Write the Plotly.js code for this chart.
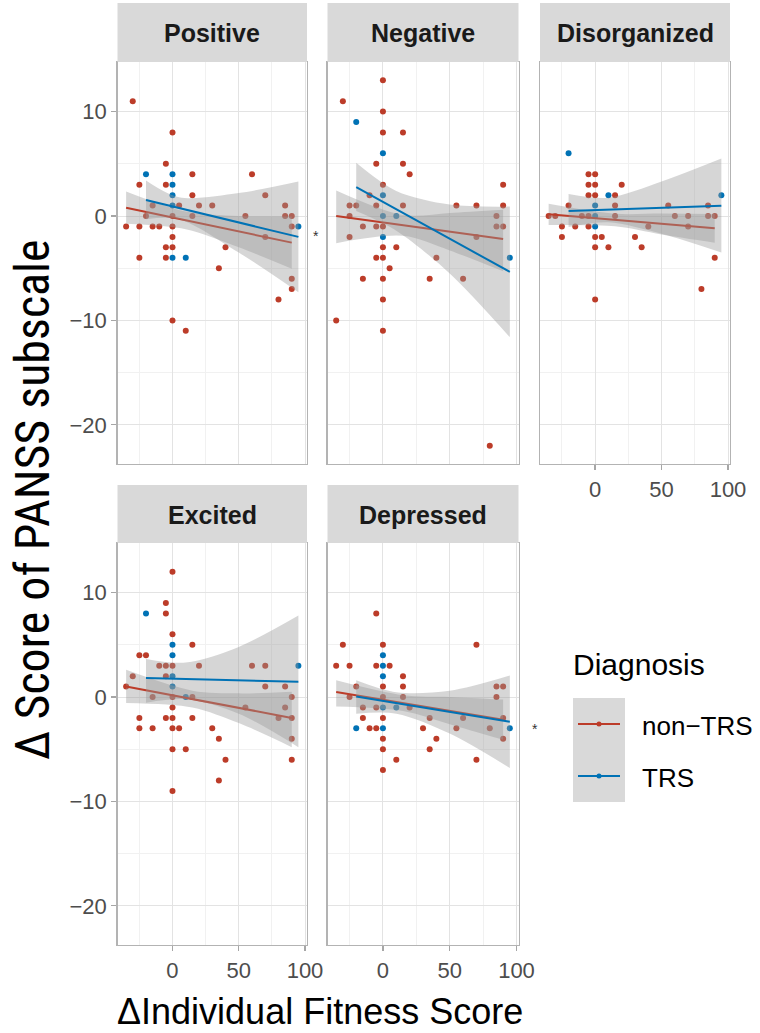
<!DOCTYPE html>
<html><head><meta charset="utf-8">
<script src="https://cdn.plot.ly/plotly-3.0.1.min.js"></script>
<style>html,body{margin:0;padding:0;background:#fff}</style>
</head><body><div id="chart" style="width:760px;height:1033px"></div>
<script>
// ---------- DATA ----------
const panelNames = ["Positive", "Negative", "Disorganized", "Excited", "Depressed"];
const groupNames = ["non\u2212TRS", "TRS"];
const xTicks = [0, 50, 100];
const xMinor = [-25, 25, 75];
const yTicks = [-20, -10, 0, 10];
const yMinor = [-15, -5, 5];

// Positive
const posRedX = [-30,0,-5,15,60,-25,-5,15,70,-15,5,20,30,85,-20,0,15,55,85,90,-35,-25,-15,-10,0,90,0,70,-5,0,40,-25,-5,35,90,90,80,0,10];
const posRedY = [11,8,5,4,4,3,3,2,2,1,1,1,1,1,0,0,0,0,0,0,-1,-1,-1,-1,-1,-1,-2,-2,-3,-3,-3,-4,-4,-5,-6,-7,-8,-10,-11];
const posBlueX = [-20,0,0,0,0,95,0,10];
const posBlueY = [4,4,3,2,1,-1,-4,-4];
const posRedFitX = [-35, 90], posRedFitY = [0.8, -2.55];
const posBlueFitX = [-20, 95], posBlueFitY = [1.53, -2.0];
const posRedBandX = [-35, 10, 50, 90], posRedBandLo = [-0.75, -1.27, -3.0, -5.05], posRedBandHi = [2.35, 0.43, 0.0, -0.05];
const posBlueBandX = [-20, 5, 50, 95], posBlueBandLo = [-0.3, -0.3, -3.5, -7.3], posBlueBandHi = [3.4, 1.8, 2.2, 3.3];

// Negative
const negRedX = [0,-30,0,0,15,-5,15,20,0,90,-10,-25,-20,-5,15,55,70,90,-25,85,-15,-5,0,85,90,-25,70,0,10,-5,0,40,5,-15,0,35,60,0,-35,0,80];
const negRedY = [13,11,10,8,8,5,5,4,3,3,2,1,1,1,1,1,1,1,0,0,-1,-1,-1,-1,-1,-2,-2,-3,-3,-4,-4,-4,-5,-6,-6,-6,-6,-8,-10,-11,-22];
const negBlueX = [-20,0,0,0,10,0,95];
const negBlueY = [9,6,2,0,0,-2,-4];
const negRedFitX = [-35, 90], negRedFitY = [0.0, -2.2];
const negBlueFitX = [-20, 95], negBlueFitY = [2.77, -5.35];
const negRedBandX = [-35, 15, 50, 90], negRedBandLo = [-2.6, -1.9, -3.3, -5.3], negRedBandHi = [2.45, 0.1, 0.3, 0.6];
const negBlueBandX = [-20, 10, 50, 95], negBlueBandLo = [0.48, -1.4, -5.5, -11.6], negBlueBandHi = [5.1, 2.4, 1.1, 0.9];

// Disorganized
const disRedX = [-35,-30,-20,-25,-25,-15,-10,-5,0,-5,0,-5,0,-5,-5,0,5,0,10,0,15,15,15,20,30,35,40,55,60,70,70,85,85,90,90,80];
const disRedY = [0,0,1,-1,-2,-1,0,4,4,3,3,2,2,0,-1,-2,-2,-3,-3,-8,2,1,0,3,-2,-3,-1,1,0,0,-1,1,0,0,-4,-7];
const disBlueX = [-20,10,0,0,0,95];
const disBlueY = [6,2,1,0,-1,2];
const disRedFitX = [-35, 90], disRedFitY = [0.16, -1.17];
const disBlueFitX = [-20, 95], disBlueFitY = [0.48, 0.98];
const disRedBandX = [-35, 15, 50, 90], disRedBandLo = [-0.86, -0.98, -1.76, -2.55], disRedBandHi = [1.17, 0.22, 0.24, 0.2];
const disBlueBandX = [-20, 10, 50, 95], disBlueBandLo = [-1.05, -0.6, -1.7, -3.5], disBlueBandHi = [2.1, 1.75, 3.3, 5.5];

// Excited
const excRedX = [0,-5,-5,0,-25,-20,15,-10,-5,0,20,60,70,-30,-5,-35,70,85,-15,0,15,90,0,55,85,-25,-5,0,15,80,90,-25,-15,0,5,30,35,90,0,10,40,90,35,0];
const excRedY = [12,9,8,6,4,4,5,3,3,3,3,3,3,2,2,1,1,1,0,0,0,0,-1,-1,-1,-2,-2,-2,-2,-2,-2,-3,-3,-3,-3,-3,-4,-4,-5,-5,-6,-6,-8,-9];
const excBlueX = [-20,0,0,95,0,0,10];
const excBlueY = [8,5,4,3,2,1,0];
const excRedFitX = [-35, 90], excRedFitY = [1.0, -2.0];
const excBlueFitX = [-20, 95], excBlueFitY = [1.81, 1.46];
const excRedBandX = [-35, 15, 50, 90], excRedBandLo = [-0.57, -1.0, -2.5, -4.8], excRedBandHi = [2.6, 0.6, 0.35, 0.5];
const excBlueBandX = [-20, 10, 50, 95], excBlueBandLo = [-0.54, -0.2, -1.6, -4.8], excBlueBandHi = [3.65, 3.3, 4.8, 7.8];

// Depressed
const depRedX = [-5,-30,0,70,-35,-25,-5,5,15,15,-20,0,85,90,-25,0,15,85,-15,-5,20,-15,0,35,60,90,-10,-5,30,55,80,0,40,90,0,35,10,70,0];
const depRedY = [8,5,5,5,3,3,3,3,2,1,1,1,1,1,0,0,0,0,-1,-1,-1,-2,-2,-2,-2,-2,-3,-3,-3,-3,-3,-4,-4,-4,-5,-5,-6,-6,-7];
const depBlueX = [0,0,0,0,10,-20,0,95];
const depBlueY = [4,3,2,-1,-1,-3,-3,-3];
const depRedFitX = [-35, 90], depRedFitY = [0.48, -2.17];
const depBlueFitX = [-20, 95], depBlueFitY = [0.06, -2.38];
const depRedBandX = [-35, 15, 50, 90], depRedBandLo = [-0.9, -1.33, -2.6, -4.1], depRedBandHi = [1.6, 0.17, 0.0, -0.25];
const depBlueBandX = [-20, 10, 50, 95], depBlueBandLo = [-1.6, -1.6, -3.5, -6.8], depBlueBandHi = [1.6, 0.45, 0.6, 2.06];

// ---------- STYLE / LAYOUT ----------
const W = 760, H = 1033;
const RED = "#BC3C29", BLUE = "#0072B5";
const BAND = "rgba(153,153,153,0.4)";
const FONT = "Liberation Sans, Arial, Helvetica, sans-serif";
const NARROW = "Liberation Sans Narrow, Arial Narrow, Roboto Condensed, Liberation Sans, sans-serif";
const px = v => v / W, py = v => 1 - v / H;

const colX = [[117.5, 307], [327.5, 518.5], [540, 730]];
const rowY = [[62, 464], [543, 945]];
const stripY = [[3, 62], [485, 543]];
const panelPos = [[0,0],[1,0],[2,0],[0,1],[1,1]]; // [col,row]
const showXLabels = [false, false, true, true, true];
const showYLabels = [true, false, false, true, false];

const panels = [
  {rx: posRedX, ry: posRedY, bx: posBlueX, by: posBlueY, rfx: posRedFitX, rfy: posRedFitY, bfx: posBlueFitX, bfy: posBlueFitY,
   rbx: posRedBandX, rbl: posRedBandLo, rbh: posRedBandHi, bbx: posBlueBandX, bbl: posBlueBandLo, bbh: posBlueBandHi},
  {rx: negRedX, ry: negRedY, bx: negBlueX, by: negBlueY, rfx: negRedFitX, rfy: negRedFitY, bfx: negBlueFitX, bfy: negBlueFitY,
   rbx: negRedBandX, rbl: negRedBandLo, rbh: negRedBandHi, bbx: negBlueBandX, bbl: negBlueBandLo, bbh: negBlueBandHi},
  {rx: disRedX, ry: disRedY, bx: disBlueX, by: disBlueY, rfx: disRedFitX, rfy: disRedFitY, bfx: disBlueFitX, bfy: disBlueFitY,
   rbx: disRedBandX, rbl: disRedBandLo, rbh: disRedBandHi, bbx: disBlueBandX, bbl: disBlueBandLo, bbh: disBlueBandHi},
  {rx: excRedX, ry: excRedY, bx: excBlueX, by: excBlueY, rfx: excRedFitX, rfy: excRedFitY, bfx: excBlueFitX, bfy: excBlueFitY,
   rbx: excRedBandX, rbl: excRedBandLo, rbh: excRedBandHi, bbx: excBlueBandX, bbl: excBlueBandLo, bbh: excBlueBandHi},
  {rx: depRedX, ry: depRedY, bx: depBlueX, by: depBlueY, rfx: depRedFitX, rfy: depRedFitY, bfx: depBlueFitX, bfy: depBlueFitY,
   rbx: depRedBandX, rbl: depRedBandLo, rbh: depRedBandHi, bbx: depBlueBandX, bbl: depBlueBandLo, bbh: depBlueBandHi}
];

const traces = [];
const layout = {
  width: W, height: H, margin: {l: 0, r: 0, t: 0, b: 0},
  paper_bgcolor: "#fff", plot_bgcolor: "#fff", showlegend: false,
  font: {family: FONT, color: "#000"},
  shapes: [], annotations: []
};

function pushBand(ax, ay, bx, lo, hi) {
  traces.push({x: bx, y: lo, xaxis: ax, yaxis: ay, mode: "lines", type: "scatter",
    line: {width: 0, shape: "spline", smoothing: 0.9}, hoverinfo: "skip"});
  traces.push({x: bx, y: hi, xaxis: ax, yaxis: ay, mode: "lines", type: "scatter", fill: "tonexty", fillcolor: BAND,
    line: {width: 0, shape: "spline", smoothing: 0.9}, hoverinfo: "skip"});
}

panels.forEach((p, i) => {
  const n = i === 0 ? "" : String(i + 1);
  const ax = "x" + n, ay = "y" + n;
  const [c, r] = panelPos[i];
  traces.push({x: p.rx, y: p.ry, xaxis: ax, yaxis: ay, mode: "markers", type: "scatter",
    marker: {color: RED, size: 6}, name: groupNames[0]});
  traces.push({x: p.bx, y: p.by, xaxis: ax, yaxis: ay, mode: "markers", type: "scatter",
    marker: {color: BLUE, size: 6}, name: groupNames[1]});
  pushBand(ax, ay, p.rbx, p.rbl, p.rbh);
  traces.push({x: p.rfx, y: p.rfy, xaxis: ax, yaxis: ay, mode: "lines", type: "scatter",
    line: {color: RED, width: 2}});
  pushBand(ax, ay, p.bbx, p.bbl, p.bbh);
  traces.push({x: p.bfx, y: p.bfy, xaxis: ax, yaxis: ay, mode: "lines", type: "scatter",
    line: {color: BLUE, width: 2}});

  const common = {showline: true, mirror: true, linecolor: "#B3B3B3", linewidth: 1.3,
    zeroline: false, showgrid: true, gridcolor: "#E3E3E3", gridwidth: 1,
    tickfont: {size: 22, color: "#4D4D4D", family: FONT}, tickmode: "array",
    ticklen: 5, tickwidth: 1.3, tickcolor: "#A6A6A6", fixedrange: true};
  layout["xaxis" + n] = Object.assign({}, common, {
    domain: [px(colX[c][0]), px(colX[c][1])], range: [-41.5, 101.5], anchor: ay,
    tickvals: xTicks, ticktext: xTicks.map(String),
    ticks: showXLabels[i] ? "outside" : "", showticklabels: showXLabels[i],
    minor: {tickmode: "array", tickvals: xMinor, showgrid: true, gridcolor: "#F1F1F1", gridwidth: 1, ticks: ""}
  });
  layout["yaxis" + n] = Object.assign({}, common, {
    domain: [py(rowY[r][1]), py(rowY[r][0])], range: [-23.75, 14.75], anchor: ax,
    tickvals: yTicks, ticktext: yTicks.map(v => v < 0 ? "\u2212" + Math.abs(v) : String(v)),
    ticks: showYLabels[i] ? "outside" : "", showticklabels: showYLabels[i],
    minor: {tickmode: "array", tickvals: yMinor, showgrid: true, gridcolor: "#F1F1F1", gridwidth: 1, ticks: ""}
  });
  layout.shapes.push({type: "rect", xref: "paper", yref: "paper", layer: "above",
    x0: px(colX[c][0]), x1: px(colX[c][1]), y0: py(stripY[r][1]), y1: py(stripY[r][0]),
    fillcolor: "#D9D9D9", line: {width: 0}});
  layout.annotations.push({xref: "paper", yref: "paper", x: px((colX[c][0] + colX[c][1]) / 2),
    y: py((stripY[r][0] + stripY[r][1]) / 2 + 1), xanchor: "center", yanchor: "middle", showarrow: false,
    text: "<b>" + panelNames[i] + "</b>", font: {size: 25, color: "#1A1A1A", family: FONT}});
});

// axis titles
layout.annotations.push({xref: "paper", yref: "paper", x: px(320), y: py(1011), xanchor: "center", yanchor: "middle",
  showarrow: false, text: "\u0394Individual Fitness Score", font: {size: 36, color: "#000", family: FONT}});
layout.annotations.push({xref: "paper", yref: "paper", x: px(32), y: py(500), xanchor: "center", yanchor: "middle",
  showarrow: false, textangle: -90, text: "\u0394 Score of PANSS subscale", font: {size: 48, color: "#000", family: NARROW}});

// asterisks
[[315.5, 236], [535, 729]].forEach(([ax_, ay_]) => {
  layout.annotations.push({xref: "paper", yref: "paper", x: px(ax_), y: py(ay_), xanchor: "center", yanchor: "middle",
    showarrow: false, text: "*", font: {size: 14, color: "#333", family: FONT}});
});

// legend
layout.shapes.push({type: "rect", xref: "paper", yref: "paper", x0: px(573), x1: px(625), y0: py(802), y1: py(698),
  fillcolor: "#D9D9D9", line: {width: 0}});
[[RED, 724], [BLUE, 776]].forEach(([col, yy]) => {
  layout.shapes.push({type: "line", xref: "paper", yref: "paper", x0: px(578), x1: px(620), y0: py(yy), y1: py(yy),
    line: {color: col, width: 2}});
  layout.shapes.push({type: "circle", xref: "paper", yref: "paper", x0: px(596.5), x1: px(601.5), y0: py(yy + 2.5), y1: py(yy - 2.5),
    fillcolor: col, line: {width: 0}});
});
layout.annotations.push({xref: "paper", yref: "paper", x: px(571), y: py(664), xanchor: "left", yanchor: "middle",
  showarrow: false, text: "Diagnosis", font: {size: 30, color: "#000", family: FONT}});
layout.annotations.push({xref: "paper", yref: "paper", x: px(640), y: py(726), xanchor: "left", yanchor: "middle",
  showarrow: false, text: groupNames[0], font: {size: 26, color: "#000", family: FONT}});
layout.annotations.push({xref: "paper", yref: "paper", x: px(640), y: py(778), xanchor: "left", yanchor: "middle",
  showarrow: false, text: groupNames[1], font: {size: 26, color: "#000", family: FONT}});

Plotly.newPlot("chart", traces, layout, {staticPlot: true, displayModeBar: false});
</script></body></html>
